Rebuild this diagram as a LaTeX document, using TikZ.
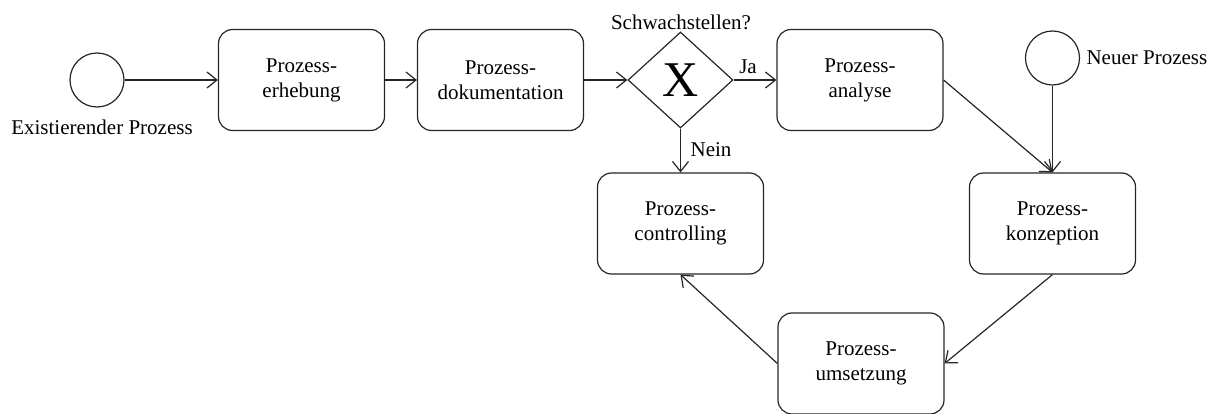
\documentclass[tikz,border=0pt]{standalone}
\usepackage{fontspec}
\setmainfont{Liberation Serif}
\usetikzlibrary{shapes.geometric, arrows.meta}

\begin{document}
\begin{tikzpicture}[x=1pt, y=-1pt,
    every node/.style={font=\fontsize{21}{25}\selectfont},
    task/.style={draw=black!85, line width=1.2pt, rounded corners=14pt, minimum width=166pt, minimum height=101pt, align=center, inner sep=0pt},
    event/.style={draw=black!85, line width=1.2pt, circle, minimum size=54pt, inner sep=0pt},
    gateway/.style={draw=black!85, line width=1.2pt, diamond, minimum width=105pt, minimum height=96pt, inner sep=0pt, font=\fontsize{50}{50}\selectfont},
    flow/.style={draw=black!85, line width=1.2pt, -{Straight Barb[length=10pt, width=16pt]}}]
  \useasboundingbox (0,0) rectangle (1221,414);

  % obere Reihe
  \node[event] (start) at (97,80) {};
  \node (startlabel) at (102,127) {Existierender Prozess};
  \node[task] (erhebung) at (301.5,80) {Prozess-\\erhebung};
  \node[task] (doku) at (500.5,80) {Prozess-\\dokumentation};
  \node[gateway] (gate) at (680.5,80) {X};
  \node (frage) at (681,22) {Schwachstellen?};
  \node[task] (analyse) at (860,80) {Prozess-\\analyse};
  \node[event] (neu) at (1052.5,58) {};
  \node[anchor=west] (neulabel) at (1083,58) {Neuer Prozess};

  % Kreislauf
  \node[task] (konzeption) at (1052.5,223.5) {Prozess-\\konzeption};
  \node[task] (umsetzung) at (861,363.5) {Prozess-\\umsetzung};
  \node[task] (controlling) at (680.5,223.5) {Prozess-\\controlling};

  \node (ja) at (748,67) {Ja};
  \node (nein) at (711,150) {Nein};

  \draw[flow] (start) -- (erhebung);
  \draw[flow] (erhebung) -- (doku);
  \draw[flow] (doku) -- (gate);
  \draw[flow] (gate) -- (analyse);
  \draw[flow] (gate) -- (controlling);
  \draw[flow] (analyse.east) -- (konzeption.north);
  \draw[flow] (neu) -- (konzeption);
  \draw[flow] (konzeption.south) -- (umsetzung.east);
  \draw[flow] (umsetzung.west) -- (controlling.south);
\end{tikzpicture}
\end{document}
